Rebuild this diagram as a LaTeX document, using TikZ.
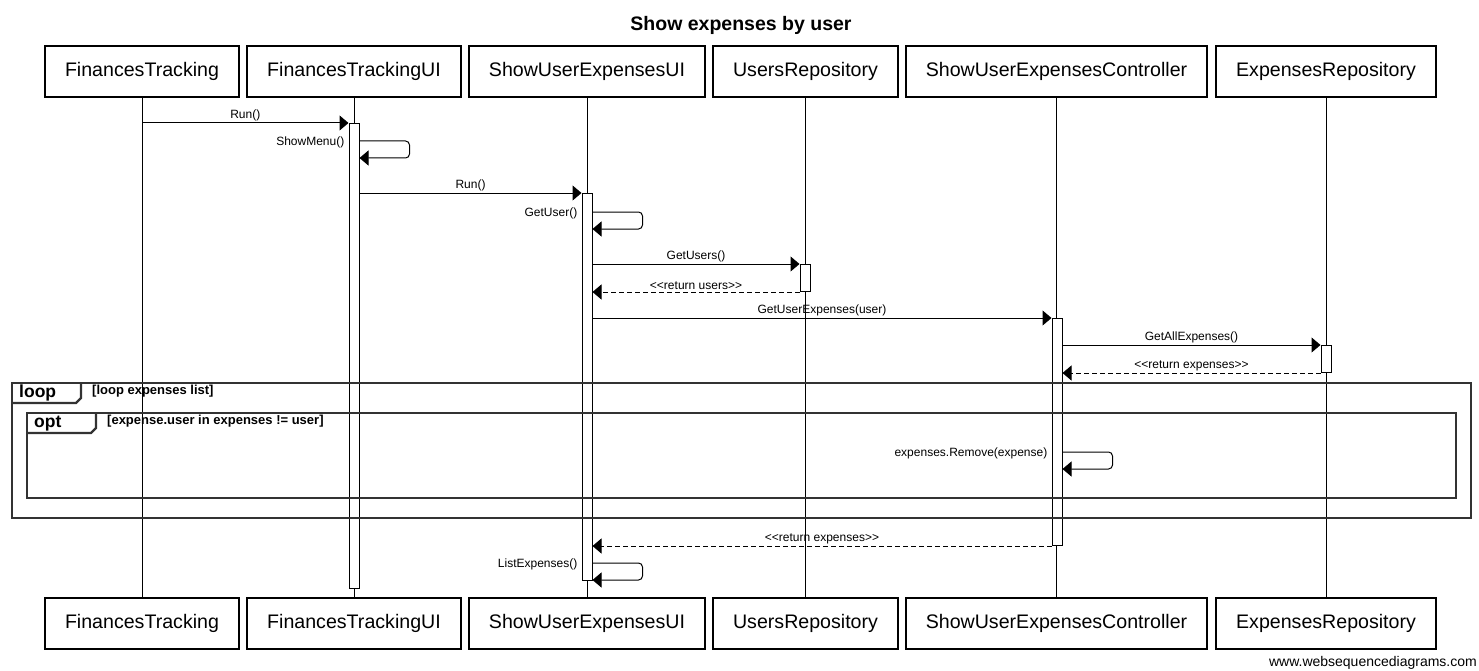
\documentclass[tikz,border=0pt]{standalone}
\usepackage{fontspec}
\setmainfont{Liberation Sans}
\usetikzlibrary{arrows.meta}

\tikzset{
  part/.style={draw, line width=1.2pt, minimum height=51pt, inner sep=0pt, font=\fontsize{19.6}{22}\selectfont},
  act/.style={draw, fill=white, line width=1pt, minimum width=10pt, inner sep=0pt, anchor=north},
  msg/.style={line width=1pt, -{Triangle[length=9pt, width=15pt]}},
  ret/.style={msg, dash pattern=on 5pt off 3pt},
  lbl/.style={font=\fontsize{12}{14}\selectfont, inner sep=1.5pt},
  frame/.style={draw=black!80, line width=2.2pt},
  tag/.style={font=\bfseries\fontsize{17.5}{20}\selectfont, anchor=west, inner sep=0pt},
  guard/.style={font=\bfseries\fontsize{13}{15}\selectfont, anchor=west, inner sep=0pt},
}

\begin{document}
\begin{tikzpicture}[x=1pt, y=-1pt]
    \useasboundingbox (0,0) rectangle (1479,671);

    \node[font=\bfseries\fontsize{19.5}{22}\selectfont] (title) at (741,25) {Show expenses by user};

    \node[part, minimum width=194pt] (ft) at (142,71.5) {FinancesTracking};
    \node[part, minimum width=214pt] (ftui) at (354,71.5) {FinancesTrackingUI};
    \node[part, minimum width=236pt] (sui) at (587,71.5) {ShowUserExpensesUI};
    \node[part, minimum width=185pt] (ur) at (805.5,71.5) {UsersRepository};
    \node[part, minimum width=301pt] (ctl) at (1056.5,71.5) {ShowUserExpensesController};
    \node[part, minimum width=220pt] (er) at (1326,71.5) {ExpensesRepository};

    \node[part, minimum width=194pt] (ftB) at (142,623.5) {FinancesTracking};
    \node[part, minimum width=214pt] (ftuiB) at (354,623.5) {FinancesTrackingUI};
    \node[part, minimum width=236pt] (suiB) at (587,623.5) {ShowUserExpensesUI};
    \node[part, minimum width=185pt] (urB) at (805.5,623.5) {UsersRepository};
    \node[part, minimum width=301pt] (ctlB) at (1056.5,623.5) {ShowUserExpensesController};
    \node[part, minimum width=220pt] (erB) at (1326,623.5) {ExpensesRepository};

    % lifelines
    \draw[line width=1pt] (ft) -- (ftB);
    \draw[line width=1pt] (ftui) -- (ftuiB);
    \draw[line width=1pt] (sui) -- (suiB);
    \draw[line width=1pt] (ur) -- (urB);
    \draw[line width=1pt] (ctl) -- (ctlB);
    \draw[line width=1pt] (er) -- (erB);

    % activations
    \node[act, minimum height=465pt] (a1) at (354,123) {};
    \node[act, minimum height=387pt] (a2) at (587,193) {};
    \node[act, minimum height=27pt] (a3) at (805,264) {};
    \node[act, minimum height=227pt] (a4) at (1057,318) {};
    \node[act, minimum height=27pt] (a5) at (1326,345) {};

    % messages
    \draw[msg] (ft |- a1.north) -- node[lbl, above] (l1) {Run()} (a1.north west);
    \draw[msg, rounded corners=4pt] ([yshift=-18pt]a1.north east) -| ++(50,17) -- ([yshift=-35pt]a1.north east);
    \node[lbl, anchor=east] (l2) at ([xshift=-2.5pt, yshift=-19pt]a1.north west) {ShowMenu()};
    \draw[msg] (a1.east |- a2.north) -- node[lbl, above] (l3) {Run()} (a2.north west);
    \draw[msg, rounded corners=4pt] ([yshift=-19pt]a2.north east) -| ++(50,17) -- ([yshift=-36pt]a2.north east);
    \node[lbl, anchor=east] (l4) at ([xshift=-2.5pt, yshift=-20pt]a2.north west) {GetUser()};
    \draw[msg] (a2.east |- a3.north) -- node[lbl, above] (l5) {GetUsers()} (a3.north west);
    \draw[ret] (a3.south west) -- node[lbl, above] (l6) {<{}<return users>{}>} (a2.east |- a3.south);
    \draw[msg] (a2.east |- a4.north) -- node[lbl, above] (l7) {GetUserExpenses(user)} (a4.north west);
    \draw[msg] (a4.east |- a5.north) -- node[lbl, above] (l8) {GetAllExpenses()} (a5.north west);
    \draw[ret] (a5.south west) -- node[lbl, above] (l9) {<{}<return expenses>{}>} (a4.east |- a5.south);

    % loop / opt frames
    \node[frame, anchor=north west, minimum width=1459pt, minimum height=135pt, inner sep=0pt] (loopbox) at (11,382) {};
    \draw[frame] ([yshift=-21pt]loopbox.north west) -- ++(65,0) -- ++(5,-5) -- ([xshift=70pt]loopbox.north west);
    \node[tag] (looptag) at ([xshift=8pt, yshift=-11pt]loopbox.north west) {loop};
    \node[guard] (loopguard) at ([xshift=81pt, yshift=-9pt]loopbox.north west) {[loop expenses list]};

    \node[frame, anchor=north west, minimum width=1429pt, minimum height=85pt, inner sep=0pt] (optbox) at (26,412) {};
    \draw[frame] ([yshift=-21pt]optbox.north west) -- ++(65,0) -- ++(5,-5) -- ([xshift=70pt]optbox.north west);
    \node[tag] (opttag) at ([xshift=8pt, yshift=-12pt]optbox.north west) {opt};
    \node[guard] (optguard) at ([xshift=81pt, yshift=-9pt]optbox.north west) {[expense.user in expenses != user]};

    \draw[msg, rounded corners=4pt] ([yshift=-134pt]a4.north east) -| ++(50,17) -- ([yshift=-151pt]a4.north east);
    \node[lbl, anchor=east] (l10) at ([xshift=-2.5pt, yshift=-135pt]a4.north west) {expenses.Remove(expense)};

    \draw[ret] (a4.south west) -- node[lbl, above] (l11) {<{}<return expenses>{}>} (a2.east |- a4.south);
    \draw[msg, rounded corners=4pt] ([yshift=-370pt]a2.north east) -| ++(50,17) -- ([yshift=-387pt]a2.north east);
    \node[lbl, anchor=east] (l12) at ([xshift=-2.5pt, yshift=-371pt]a2.north west) {ListExpenses()};

    \node[font=\fontsize{14}{16}\selectfont, anchor=east, inner sep=0pt] (wsd) at (1477,663) {www.websequencediagrams.com};
\end{tikzpicture}
\end{document}
